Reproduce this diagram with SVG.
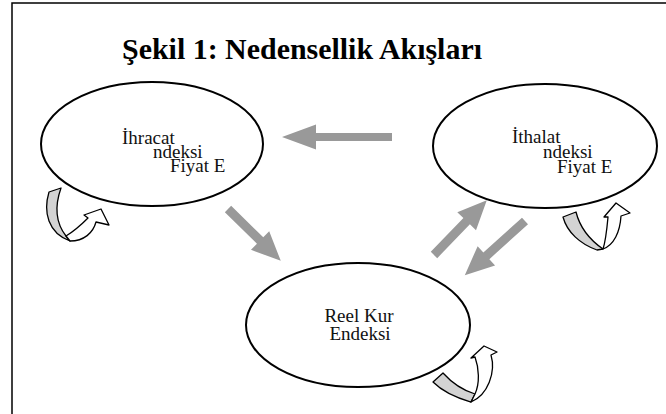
<svg xmlns="http://www.w3.org/2000/svg" width="666" height="414" viewBox="0 0 666 414">
<style>
.frame{fill:none;stroke:#000;stroke-width:1.5}
.node{fill:#fff;stroke:#000;stroke-width:2}
.lbl{font-family:"Liberation Serif","Times New Roman",serif;font-size:19px;fill:#111}
.title{font-family:"Liberation Serif","Times New Roman",serif;font-size:30px;font-weight:bold;fill:#000}
.blk{fill:#999}
.band{fill:#d3d3d3;stroke:#000;stroke-width:1.3;stroke-linejoin:round}
.curl{fill:#fff;stroke:#000;stroke-width:1.3;stroke-linejoin:round}
</style>
<rect width="666" height="414" fill="#fff"/>
<path class="frame" d="M12,414 V3 H666"/>
<text class="title" x="122" y="59" textLength="360" lengthAdjust="spacingAndGlyphs">Şekil 1: Nedensellik Akışları</text>

<g id="connectors">
  <path class="blk" transform="translate(392,137) rotate(180)" d="M0,-4 H76 V-12.5 L110,0 L76,12.5 V4 H0 Z"/>
  <path class="blk" transform="translate(228,209) rotate(44.5)" d="M0,-4.5 H45 V-13 L74,0 L45,13 V4.5 H0 Z"/>
  <path class="blk" transform="translate(434,255) rotate(-46)" d="M0,-4.5 H47 V-13 L76,0 L47,13 V4.5 H0 Z"/>
  <path class="blk" transform="translate(525,221) rotate(138)" d="M0,-4.5 H52 V-13 L81,0 L52,13 V4.5 H0 Z"/>
</g>

<g id="node-ihracat">
  <ellipse class="node" cx="152" cy="144" rx="111" ry="62"/>
  <text class="lbl" x="122" y="144">İhracat</text>
  <text class="lbl" x="153" y="158">ndeksi</text>
  <text class="lbl" x="170" y="172">Fiyat E</text>
  <path class="band" d="M49,192 L61,188 C55,205 55,222 66,236 L70,241 C48,233 43,212 49,192 Z"/>
  <path class="curl" d="M66,236 C76,230 82,224 88,218 L84,215 L101,209 L109,225 L96,222 C93,233 84,241 70,241 Z"/>
</g>

<g id="node-ithalat">
  <ellipse class="node" cx="545" cy="146" rx="112" ry="62"/>
  <text class="lbl" x="512" y="143">İthalat</text>
  <text class="lbl" x="543" y="158">ndeksi</text>
  <text class="lbl" x="557" y="173">Fiyat E</text>
  <path class="band" d="M563,217 L576,212 C580,228 590,240 603,249 L597,250 C580,244 567,232 563,217 Z"/>
  <path class="curl" d="M603,249 C606,240 607,228 608,217 L604,217 L616,203 L630,213 L621,216 C620,232 614,245 603,249 Z"/>
</g>

<g id="node-reel">
  <ellipse class="node" cx="358" cy="325" rx="112" ry="62"/>
  <text class="lbl" x="359" y="322" font-size="20" text-anchor="middle">Reel Kur</text>
  <text class="lbl" x="360" y="340" font-size="20" text-anchor="middle">Endeksi</text>
  <path class="band" d="M433,382 L443,373 C452,383 462,390 475,394 L471,402 C457,398 443,392 433,382 Z"/>
  <path class="curl" d="M475,394 C480,383 479,368 475,357 L471,358 L484,346 L497,352 L491,355 C496,372 488,395 471,402 Z"/>
</g>
</svg>
